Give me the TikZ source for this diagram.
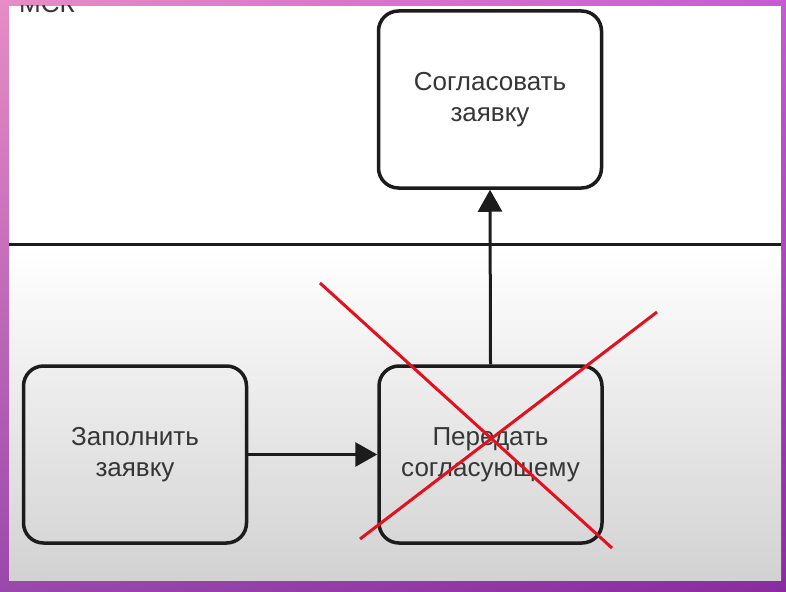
\documentclass[tikz,border=0pt]{standalone}
\usepackage{fontspec}
\setmainfont{Liberation Sans}
\usetikzlibrary{arrows.meta,shadings}
\definecolor{frameUL}{HTML}{E88CC6}
\definecolor{frameUR}{HTML}{C75AD2}
\definecolor{frameLL}{HTML}{9A48AC}
\definecolor{frameLR}{HTML}{8A2CA0}
\definecolor{boxline}{HTML}{1C1C1C}
\definecolor{txtgray}{HTML}{363636}
\definecolor{lowgray}{HTML}{D2D2D2}
\definecolor{crossred}{HTML}{E3101E}
\tikzset{
  taskbox/.style={draw=boxline, line width=3.5pt, rounded corners=20pt,
    minimum width=223pt, minimum height=177pt, align=center,
    text=txtgray, font=\fontsize{26}{31}\selectfont},
  flow/.style={draw=boxline, line width=3pt,
    -{Triangle[length=22pt,width=24pt]}},
  cross/.style={draw=crossred, line width=3pt},
  lane/.style={draw=boxline, line width=3pt}
}
\begin{document}
\begin{tikzpicture}[x=1pt,y=-1pt]
\useasboundingbox (0,0) rectangle (786,591);
% frame
\shade[upper left=frameUL, upper right=frameUR, lower left=frameLL, lower right=frameLR]
  (0,0) rectangle (786,591);
% inner area
\fill[white] (9,6) rectangle (781,580);
\shade[top color=white, bottom color=lowgray] (9,250) rectangle (781,580);
% cut-off lane label
\begin{scope}
\clip (9,6) rectangle (781,580);
\node[anchor=base west, inner sep=0pt, text=txtgray, font=\fontsize{26}{31}\selectfont] (lbl) at (19,13) {МСК};
\end{scope}
% lane separator
\coordinate (laneL) at (9,244);
\coordinate (laneR) at (781,244);
\draw[lane] (laneL) -- (laneR);
% tasks
\node[taskbox, fill=white] (agree) at (490,99.5) {Согласовать\\заявку};
\node[taskbox] (fill) at (135,454.5) {Заполнить\\заявку};
\node[taskbox] (pass) at (490.5,454.5) {Передать\\согласующему};
% connectors
\draw[flow] (fill.east) -- (pass.west);
\draw[flow] (pass.north) -- (agree.south);
% red cross
\coordinate (c1a) at (320,283);
\coordinate (c1b) at (612,548);
\coordinate (c2a) at (657,312);
\coordinate (c2b) at (360,539);
\draw[cross] (c1a) -- (c1b);
\draw[cross] (c2a) -- (c2b);
\end{tikzpicture}
\end{document}
